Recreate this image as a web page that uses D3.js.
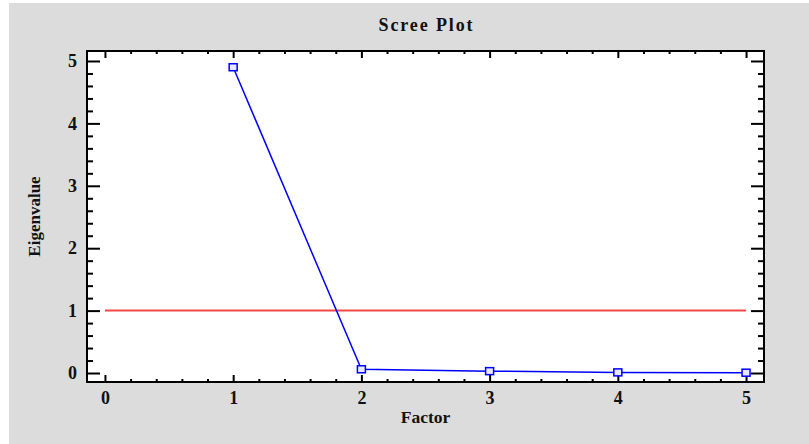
<!DOCTYPE html>
<html><head><meta charset="utf-8">
<script src="https://cdn.jsdelivr.net/npm/d3@7"></script>
<style>html,body{margin:0;padding:0;background:#fff;}svg{display:block;}</style>
</head><body>
<script>
const factors = [1, 2, 3, 4, 5];
const eigenvalues = [4.90, 0.06, 0.03, 0.01, 0.005];
const xTicks = [0, 1, 2, 3, 4, 5];
const yTicks = [0, 1, 2, 3, 4, 5];
const refLine = {value: 1, from: 0, to: 5};
const title = "Scree Plot", xLabel = "Factor", yLabel = "Eigenvalue";

const W = 809, H = 444;
const svg = d3.select("body").append("svg").attr("width", W).attr("height", H);
svg.append("rect").attr("x", 9).attr("y", 3).attr("width", W - 9).attr("height", H - 3).attr("fill", "#dcdcdc");

const L = 87, R = 764, T = 51, B = 382;
const x = d3.scaleLinear().domain([-0.14, 5.14]).range([L, R]);
const y = d3.scaleLinear().domain([-0.144, 5.16]).range([B, T]);

svg.append("rect").attr("x", L).attr("y", T).attr("width", R - L).attr("height", B - T).attr("fill", "#fff");

const font = "'Liberation Serif','Times New Roman',serif";
const xMinor = d3.range(0, 5.0001, 0.2).filter(v => Math.abs(v - Math.round(v)) > 1e-6);
const yMinor = d3.range(0, 5.0001, 0.2).filter(v => Math.abs(v - Math.round(v)) > 1e-6);

function axis(gen, pos) {
  const g = svg.append("g").attr("transform", pos).call(gen);
  g.select(".domain").remove();
  g.selectAll("line").attr("stroke", "#000").attr("stroke-width", 2);
  return g;
}
// bottom
axis(d3.axisTop(x).tickValues(xTicks).tickSize(7).tickFormat(""), `translate(0,${B})`);
axis(d3.axisTop(x).tickValues(xMinor).tickSize(3).tickFormat(""), `translate(0,${B})`);
// top
axis(d3.axisBottom(x).tickValues(xTicks).tickSize(7).tickFormat(""), `translate(0,${T})`);
axis(d3.axisBottom(x).tickValues(xMinor).tickSize(3).tickFormat(""), `translate(0,${T})`);
// left
axis(d3.axisRight(y).tickValues(yTicks).tickSize(13).tickFormat(""), `translate(${L},0)`);
axis(d3.axisRight(y).tickValues(yMinor).tickSize(6).tickFormat(""), `translate(${L},0)`);
// right
axis(d3.axisLeft(y).tickValues(yTicks).tickSize(13).tickFormat(""), `translate(${R},0)`);
axis(d3.axisLeft(y).tickValues(yMinor).tickSize(6).tickFormat(""), `translate(${R},0)`);

// tick labels
const xl = axis(d3.axisBottom(x).tickValues(xTicks).tickSize(0).tickPadding(9).tickFormat(d3.format("d")), `translate(0,${B})`);
xl.selectAll("text").attr("font-family", font).attr("font-weight", "bold").attr("font-size", 18).attr("fill", "#111");
const yl = axis(d3.axisLeft(y).tickValues(yTicks).tickSize(0).tickPadding(10).tickFormat(d3.format("d")), `translate(${L},0)`);
yl.selectAll("text").attr("font-family", font).attr("font-weight", "bold").attr("font-size", 18).attr("fill", "#111");

// frame
svg.append("rect").attr("x", L).attr("y", T).attr("width", R - L).attr("height", B - T)
  .attr("fill", "none").attr("stroke", "#000").attr("stroke-width", 2);

// reference line
svg.append("line").attr("x1", x(refLine.from)).attr("x2", x(refLine.to))
  .attr("y1", y(refLine.value)).attr("y2", y(refLine.value))
  .attr("stroke", "#f04848").attr("stroke-width", 2);

// series
const data = factors.map((f, i) => ({f, v: eigenvalues[i]}));
svg.append("path").datum(data)
  .attr("d", d3.line().x(d => x(d.f)).y(d => y(d.v)))
  .attr("fill", "none").attr("stroke", "#0000ff").attr("stroke-width", 1.5);
svg.selectAll(".pt").data(data).enter().append("rect")
  .attr("x", d => x(d.f) - 4).attr("y", d => y(d.v) - 3.5)
  .attr("width", 8).attr("height", 7)
  .attr("fill", "#e8e8ff").attr("stroke", "#0000ff").attr("stroke-width", 1.5);

// titles
svg.append("text").attr("x", (L + R) / 2).attr("y", 31).attr("text-anchor", "middle")
  .attr("font-family", font).attr("font-weight", "bold").attr("font-size", 18).attr("fill", "#111")
  .attr("textLength", 94).attr("lengthAdjust", "spacing").text(title);
svg.append("text").attr("x", (L + R) / 2).attr("y", 423).attr("text-anchor", "middle")
  .attr("font-family", font).attr("font-weight", "bold").attr("font-size", 17.5).attr("fill", "#111").text(xLabel);
svg.append("text").attr("transform", `translate(40,${(T + B) / 2}) rotate(-90)`).attr("text-anchor", "middle")
  .attr("font-family", font).attr("font-weight", "bold").attr("font-size", 17).attr("fill", "#111").text(yLabel);
</script>
</body></html>
